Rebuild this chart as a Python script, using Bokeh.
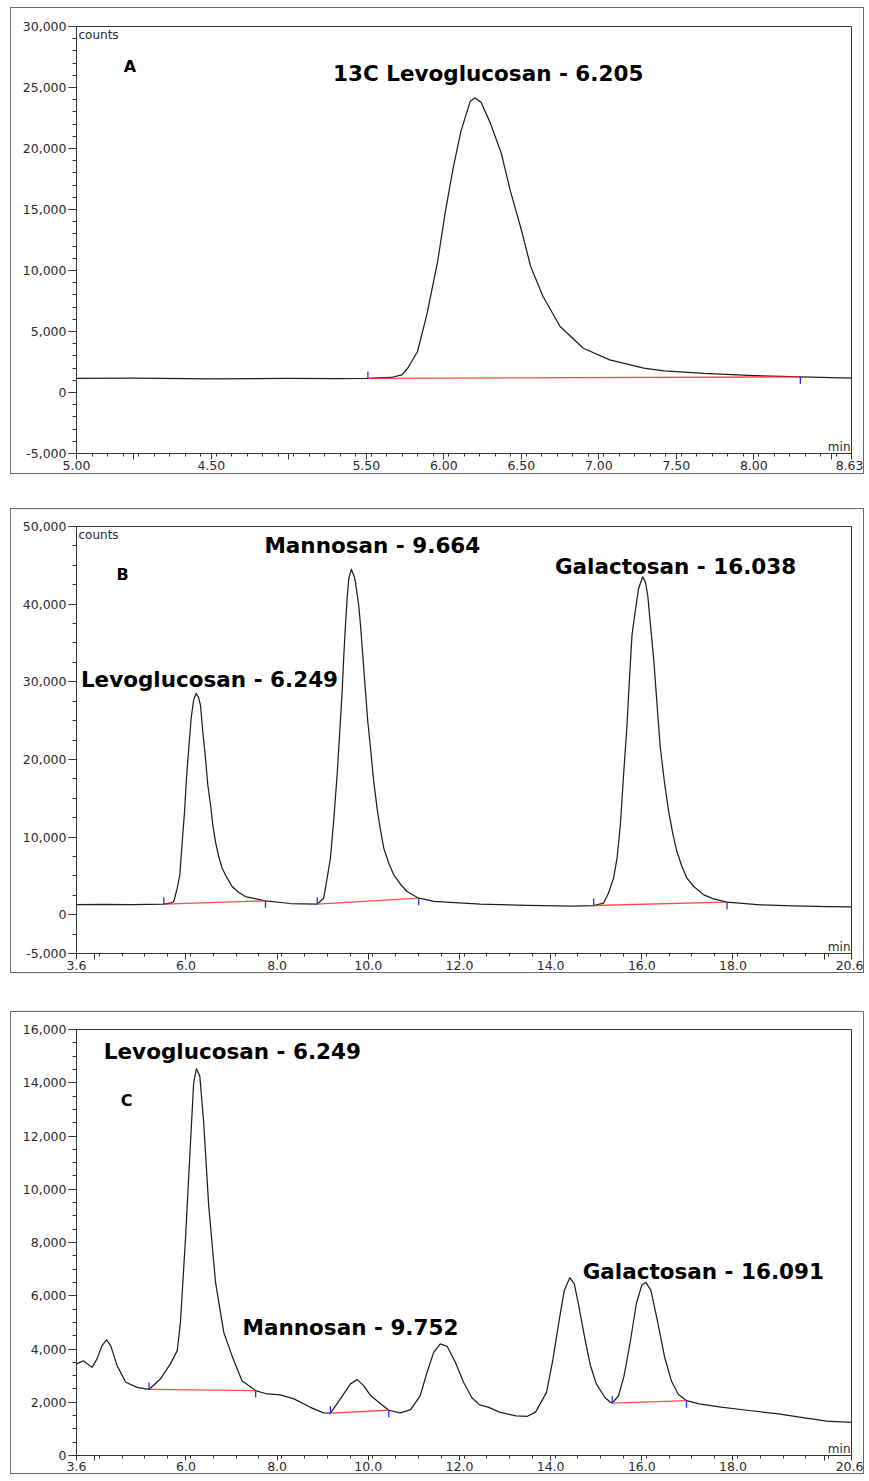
import numpy as np
from bokeh.plotting import figure
from bokeh.models import Range1d, FixedTicker, Label
from bokeh.layouts import column
from bokeh.embed import file_html
from bokeh.resources import INLINE

# ---------------- Panel A data ----------------
A_time = [3.63, 4.00, 4.50, 5.00, 5.30, 5.51, 5.66, 5.73, 5.77, 5.83, 5.89, 5.96, 6.01, 6.06, 6.11,
          6.17, 6.20, 6.24, 6.30, 6.37, 6.43, 6.50, 6.56, 6.64, 6.75, 6.90, 7.07, 7.29, 7.42, 7.68,
          8.00, 8.30, 8.63]
A_counts = [1150, 1170, 1120, 1160, 1130, 1150, 1230, 1450, 2050, 3360, 6370, 10740, 14840, 18390, 21400,
            23860, 24150, 23800, 22080, 19630, 16480, 13340, 10330, 7870, 5410, 3630, 2680, 1990, 1780, 1560,
            1380, 1280, 1180]
A_xticks = [3.63, 4.0, 4.5, 5.0, 5.5, 6.0, 6.5, 7.0, 7.5, 8.0, 8.5, 8.63]
A_xlabels = ["5.00", "", "4.50", "", "5.50", "6.00", "6.50", "7.00", "7.50", "8.00", "", "8.63"]
A_yticks = [-5000, 0, 5000, 10000, 15000, 20000, 25000, 30000]
A_ylabels = ["-5,000", "0", "5,000", "10,000", "15,000", "20,000", "25,000", "30,000"]
A_int_start = [5.51]
A_int_start_y = [1150]
A_int_end = [8.30]
A_int_end_y = [1280]
A_peak_names = ["13C Levoglucosan - 6.205"]
A_peak_x = [6.286]
A_peak_y = [26160]

# ---------------- Panel B data ----------------
B_time = [3.6, 4.2, 4.8, 5.2, 5.515, 5.66, 5.734, 5.81, 5.866, 5.92, 5.97, 6.017, 6.115, 6.17, 6.225,
          6.28, 6.32, 6.37, 6.43, 6.48, 6.54, 6.59, 6.648, 6.72, 6.795, 6.905, 7.014, 7.16, 7.306, 7.745,
          8.29, 8.88, 9.02, 9.06, 9.17, 9.24, 9.317, 9.375, 9.427, 9.46, 9.5, 9.536, 9.573, 9.63, 9.69,
          9.72, 9.79, 9.83, 9.885, 9.94, 9.99, 10.05, 10.12, 10.194, 10.267, 10.34, 10.45, 10.56, 10.705, 10.85,
          11.107, 11.44, 12.46, 13.5, 14.5, 14.945, 15.16, 15.27, 15.38, 15.457, 15.53, 15.6, 15.676, 15.73, 15.785,
          15.855, 15.93, 16.02, 16.08, 16.13, 16.19, 16.26, 16.33, 16.4, 16.495, 16.59, 16.685, 16.77, 16.88, 16.99,
          17.14, 17.36, 17.575, 17.87, 18.6, 19.3, 20.06, 20.6]
B_counts = [1300, 1330, 1280, 1330, 1350, 1480, 1700, 3410, 5120, 9420, 13280, 17990, 25300, 27700, 28500,
            27900, 27000, 23580, 20140, 16700, 14130, 11560, 9420, 7490, 5980, 4700, 3630, 2860, 2340, 1780,
            1440, 1350, 2120, 3400, 7270, 12000, 17990, 23580, 28730, 33000, 37300, 40730, 43300, 44500, 43600,
            42800, 39870, 37300, 33000, 28730, 24860, 21400, 17140, 13700, 10910, 8560, 6630, 5120, 3925, 2990,
            2120, 1700, 1350, 1200, 1100, 1180, 1480, 2800, 4700, 7270, 11560, 17990, 24430, 30440, 36010,
            39020, 42020, 43520, 42800, 41160, 37300, 33010, 27440, 21850, 17140, 13280, 10270, 8130, 6200, 4700,
            3630, 2550, 2030, 1610, 1260, 1150, 1050, 1000]
BC_xticks = [3.6, 4.0, 6.0, 8.0, 10.0, 12.0, 14.0, 16.0, 18.0, 20.0, 20.6]
BC_xlabels = ["3.6", "", "6.0", "8.0", "10.0", "12.0", "14.0", "16.0", "18.0", "", "20.6"]
B_yticks = [-5000, 0, 10000, 20000, 30000, 40000, 50000]
B_ylabels = ["-5,000", "0", "10,000", "20,000", "30,000", "40,000", "50,000"]
B_int_start = [5.515, 8.88, 14.945]
B_int_start_y = [1350, 1350, 1180]
B_int_end = [7.745, 11.107, 17.87]
B_int_end_y = [1780, 2120, 1610]
B_peak_names = ["Levoglucosan - 6.249", "Mannosan - 9.664", "Galactosan - 16.038"]
B_peak_x = [6.517, 10.09, 16.74]
B_peak_y = [30300, 47550, 44850]

# ---------------- Panel C data ----------------
C_time = [3.6, 3.75, 3.94, 4.05, 4.16, 4.26, 4.35, 4.49, 4.68, 4.93, 5.19, 5.44, 5.66, 5.81, 5.88,
          5.99, 6.085, 6.17, 6.23, 6.305, 6.39, 6.5, 6.65, 6.83, 7.01, 7.23, 7.53, 7.78, 8.07, 8.37,
          8.73, 9.02, 9.17, 9.39, 9.61, 9.755, 9.9, 10.05, 10.27, 10.45, 10.7, 10.93, 11.14, 11.29, 11.435,
          11.58, 11.73, 11.91, 12.09, 12.27, 12.44, 12.63, 12.88, 13.24, 13.49, 13.67, 13.91, 14.05, 14.18, 14.3,
          14.42, 14.52, 14.62, 14.75, 14.87, 15.0, 15.19, 15.31, 15.35, 15.49, 15.61, 15.75, 15.88, 16.0, 16.09,
          16.2, 16.35, 16.5, 16.65, 16.8, 16.98, 17.26, 17.74, 18.35, 18.96, 19.57, 20.06, 20.6]
C_counts = [3440, 3560, 3310, 3630, 4125, 4340, 4125, 3375, 2750, 2560, 2480, 2875, 3440, 3940, 5000,
            8125, 11250, 14000, 14525, 14250, 12500, 9375, 6500, 4625, 3750, 2810, 2440, 2310, 2275, 2125,
            1810, 1600, 1590, 2125, 2690, 2850, 2625, 2250, 1940, 1700, 1600, 1725, 2250, 3125, 3875,
            4190, 4100, 3500, 2750, 2180, 1900, 1816, 1630, 1485, 1472, 1630, 2370, 3600, 5000, 6200,
            6680, 6450, 5600, 4400, 3400, 2700, 2180, 2000, 1970, 2245, 2980, 4300, 5700, 6400, 6500,
            6200, 5000, 3700, 2800, 2300, 2060, 1940, 1816, 1690, 1570, 1410, 1290, 1240]
C_yticks = [0, 2000, 4000, 6000, 8000, 10000, 12000, 14000, 16000]
C_ylabels = ["0", "2,000", "4,000", "6,000", "8,000", "10,000", "12,000", "14,000", "16,000"]
C_int_start = [5.19, 9.17, 15.35]
C_int_start_y = [2480, 1590, 1970]
C_int_end = [7.53, 10.45, 16.98]
C_int_end_y = [2440, 1700, 2060]
C_peak_names = ["Levoglucosan - 6.249", "Mannosan - 9.752", "Galactosan - 16.091"]
C_peak_x = [7.02, 9.61, 17.35]
C_peak_y = [15190, 4800, 6900]

PANEL_LETTERS = ["A", "B", "C"]
LETTER_X = [3.974, 4.61, 4.70]
LETTER_Y = [26730, 43800, 13350]

TICK_FONT = "DejaVu Sans"
AX_COLOR = "#333333"


def make_panel(h, top, bottom, xr, yr, xticks, xlabels, xminor_step, yticks, ylabels, yminor_step,
               t, c, s, sy, e, ey, names, px, py, letter, lx, ly, show_counts, xtick_out=6):
    p = figure(width=854, height=h, x_range=Range1d(*xr), y_range=Range1d(*yr),
               output_backend="svg", toolbar_location=None,
               min_border_left=65, min_border_right=14, min_border_top=top, min_border_bottom=bottom)
    p.xgrid.visible = False
    p.ygrid.visible = False
    p.outline_line_color = AX_COLOR
    p.outline_line_width = 1
    p.background_fill_color = "white"
    p.border_fill_color = "white"
    p.styles = {"border": "1px solid #6a6a6a"}

    xminor = [round(v, 3) for v in np.arange(xr[0], xr[1] + 1e-9, xminor_step)]
    yminor = [round(v, 3) for v in np.arange(yr[0], yr[1] + 1e-9, yminor_step)]
    p.xaxis.ticker = FixedTicker(ticks=xticks, minor_ticks=xminor)
    p.yaxis.ticker = FixedTicker(ticks=yticks, minor_ticks=yminor)
    p.xaxis.major_label_overrides = {k: v for k, v in zip(xticks, xlabels)}
    p.yaxis.major_label_overrides = {k: v for k, v in zip(yticks, ylabels)}

    for ax in (p.xaxis[0], p.yaxis[0]):
        ax.axis_line_color = AX_COLOR
        ax.major_tick_line_color = AX_COLOR
        ax.minor_tick_line_color = AX_COLOR
        ax.major_tick_in = 0
        ax.minor_tick_in = 0
        ax.major_label_text_font = TICK_FONT
        ax.major_label_text_font_size = "12.5px"
        ax.major_label_text_color = "#2b2b2b"
        ax.major_label_standoff = 2
    p.xaxis.major_tick_out = xtick_out
    p.xaxis.minor_tick_out = 3
    p.xaxis.major_label_standoff = 1
    p.yaxis.major_tick_out = 8
    p.yaxis.minor_tick_out = 4

    # chromatogram trace
    p.line(t, c, line_color="#1e1e1e", line_width=1.25, line_join="round")

    # integration baselines and markers
    plot_h = h - top - bottom
    L = 7 * (yr[1] - yr[0]) / plot_h
    p.segment(x0=s, y0=sy, x1=e, y1=ey, line_color="#ff2a2a", line_width=1.3, line_alpha=0.85)
    p.segment(x0=s, y0=sy, x1=s, y1=[v + L for v in sy], line_color="#1f2fff", line_width=1.3)
    p.segment(x0=e, y0=ey, x1=e, y1=[v - L for v in ey], line_color="#1f2fff", line_width=1.3)

    for name, x, y in zip(names, px, py):
        p.add_layout(Label(x=x, y=y, text=name, text_font="DejaVu Sans", text_font_style="bold",
                           text_font_size="21.5px", text_color="black",
                           text_align="center", text_baseline="middle"))
    p.add_layout(Label(x=lx, y=ly, text=letter, text_font="DejaVu Sans", text_font_style="bold",
                       text_font_size="16px", text_color="black",
                       text_align="center", text_baseline="middle"))
    if show_counts:
        p.add_layout(Label(x=xr[0], y=yr[1], text="counts", x_offset=2, y_offset=-1,
                           text_font=TICK_FONT, text_font_size="12px", text_color="#2b2b2b",
                           text_align="left", text_baseline="top"))
    p.add_layout(Label(x=xr[1], y=yr[0], text="min", x_offset=-1, y_offset=0,
                       text_font=TICK_FONT, text_font_size="12px", text_color="#2b2b2b",
                       text_align="right", text_baseline="bottom"))
    return p


pA = make_panel(467, 18, 22, (3.63, 8.63), (-5000, 30000), A_xticks, A_xlabels, 0.1,
                A_yticks, A_ylabels, 1000, A_time, A_counts,
                A_int_start, A_int_start_y, A_int_end, A_int_end_y,
                A_peak_names, A_peak_x, A_peak_y, PANEL_LETTERS[0], LETTER_X[0], LETTER_Y[0], True)
pB = make_panel(465, 17, 21, (3.6, 20.6), (-5000, 50000), BC_xticks, BC_xlabels, 0.5,
                B_yticks, B_ylabels, 2500, B_time, B_counts,
                B_int_start, B_int_start_y, B_int_end, B_int_end_y,
                B_peak_names, B_peak_x, B_peak_y, PANEL_LETTERS[1], LETTER_X[1], LETTER_Y[1], True)
pC = make_panel(463, 17, 20, (3.6, 20.6), (0, 16000), BC_xticks, BC_xlabels, 0.5,
                C_yticks, C_ylabels, 500, C_time, C_counts,
                C_int_start, C_int_start_y, C_int_end, C_int_end_y,
                C_peak_names, C_peak_x, C_peak_y, PANEL_LETTERS[2], LETTER_X[2], LETTER_Y[2], False,
                xtick_out=5)
pA.margin = (7, 0, 0, 10)
pB.margin = (34, 0, 0, 10)
pC.margin = (38, 0, 0, 10)

layout = column(pA, pB, pC, spacing=0)
open("out.html", "w").write(file_html(layout, INLINE))
